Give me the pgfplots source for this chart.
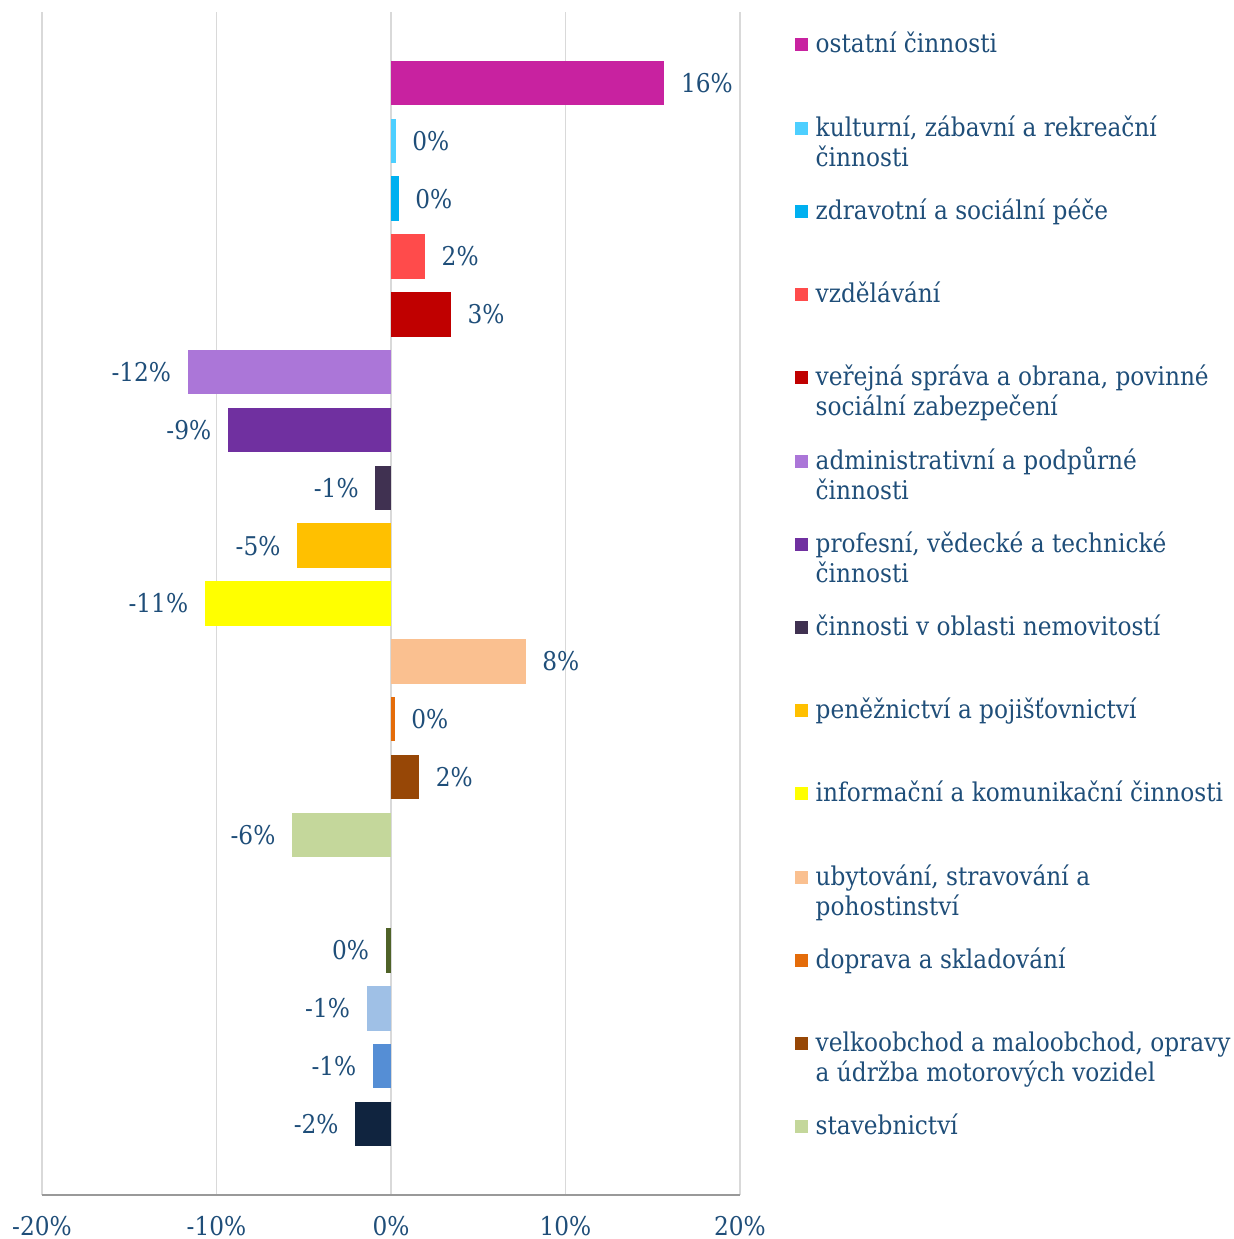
\documentclass[border=0pt]{standalone}
\usepackage{pgfplots}
\pgfplotsset{compat=1.18}
\usepackage{fontspec}
\setmainfont{DejaVu Serif Condensed}
\definecolor{txt}{HTML}{1F4E79}
\definecolor{c1}{HTML}{C822A0}
\definecolor{c2}{HTML}{4DCFFF}
\definecolor{c3}{HTML}{00B0F0}
\definecolor{c4}{HTML}{FF4B4B}
\definecolor{c5}{HTML}{C00000}
\definecolor{c6}{HTML}{AB76D8}
\definecolor{c7}{HTML}{7030A0}
\definecolor{c8}{HTML}{403151}
\definecolor{c9}{HTML}{FFC000}
\definecolor{c10}{HTML}{FFFF00}
\definecolor{c11}{HTML}{FAC090}
\definecolor{c12}{HTML}{E46C0A}
\definecolor{c13}{HTML}{974706}
\definecolor{c14}{HTML}{C4D79B}
\definecolor{c15}{HTML}{4F6228}
\definecolor{c16}{HTML}{9FC0E6}
\definecolor{c17}{HTML}{558ED5}
\definecolor{c18}{HTML}{10243F}
\newcommand\lf{\fontsize{7.35}{8.5}\selectfont}
\pgfplotsset{
  pos/.style={fill=#1, draw=none, nodes near coords style={anchor=west, xshift=1.6mm}},
  neg/.style={fill=#1, draw=none, nodes near coords style={anchor=east, xshift=-1.6mm}},
}
\newcommand\legentry[4]{%
  \pgfmathsetmacro\bl{53+83.2*#1}%
  \fill[#2] (795,\bl-14.5) rectangle (808,\bl-1.5);
  \node[anchor=base west, inner sep=0, text=txt, font=\lf] at (815,\bl) {#3};
  \node[anchor=base west, inner sep=0, text=txt, font=\lf] at (815,\bl+30) {#4};
}
\begin{document}
\begin{tikzpicture}
\path[use as bounding box] (0,0) rectangle (123.3mm,-123.9mm);
\begin{axis}[
  at={(4.2mm,-119.5mm)}, anchor=south west,
  scale only axis, width=69.8mm, height=118.3mm,
  xbar, bar shift=0pt, bar width=0.77,
  xmin=-20, xmax=20, ymin=-0.228, ymax=20.228,
  enlargelimits=false,
  axis x line*=bottom, axis y line=none,
  x axis line style={color=gray!80, line width=0.6pt},
  xmajorgrids, grid style={color=gray!30, line width=0.4pt},
  major tick length=0pt,
  xtick={-20,-10,0,10,20},
  xticklabels={-20\%,-10\%,0\%,10\%,20\%},
  xticklabel style={font=\lf, text=txt, yshift=-0.9mm},
  ytick=\empty,
  every node near coord/.append style={font=\lf, text=txt, inner sep=0pt},
  clip=false,
]
\addplot[pos=c1, nodes near coords={16\%}] coordinates {(15.67,19)};
\addplot[pos=c2, nodes near coords={0\%}] coordinates {(0.27,18)};
\addplot[pos=c3, nodes near coords={0\%}] coordinates {(0.44,17)};
\addplot[pos=c4, nodes near coords={2\%}] coordinates {(1.95,16)};
\addplot[pos=c5, nodes near coords={3\%}] coordinates {(3.43,15)};
\addplot[neg=c6, nodes near coords={-12\%}] coordinates {(-11.65,14)};
\addplot[neg=c7, nodes near coords={-9\%}] coordinates {(-9.35,13)};
\addplot[neg=c8, nodes near coords={-1\%}] coordinates {(-0.90,12)};
\addplot[neg=c9, nodes near coords={-5\%}] coordinates {(-5.38,11)};
\addplot[neg=c10, nodes near coords={-11\%}] coordinates {(-10.67,10)};
\addplot[pos=c11, nodes near coords={8\%}] coordinates {(7.72,9)};
\addplot[pos=c12, nodes near coords={0\%}] coordinates {(0.21,8)};
\addplot[pos=c13, nodes near coords={2\%}] coordinates {(1.61,7)};
\addplot[neg=c14, nodes near coords={-6\%}] coordinates {(-5.67,6)};
\addplot[neg=c15, nodes near coords={0\%}] coordinates {(-0.31,4)};
\addplot[neg=c16, nodes near coords={-1\%}] coordinates {(-1.40,3)};
\addplot[neg=c17, nodes near coords={-1\%}] coordinates {(-1.03,2)};
\addplot[neg=c18, nodes near coords={-2\%}] coordinates {(-2.05,1)};
\end{axis}
\begin{scope}[x=0.1mm, y=-0.1mm]
\legentry{0}{c1}{ostatní činnosti}{}
\legentry{1}{c2}{kulturní, zábavní a rekreační}{činnosti}
\legentry{2}{c3}{zdravotní a sociální péče}{}
\legentry{3}{c4}{vzdělávání}{}
\legentry{4}{c5}{veřejná správa a obrana, povinné}{sociální zabezpečení}
\legentry{5}{c6}{administrativní a podpůrné}{činnosti}
\legentry{6}{c7}{profesní, vědecké a technické}{činnosti}
\legentry{7}{c8}{činnosti v oblasti nemovitostí}{}
\legentry{8}{c9}{peněžnictví a pojišťovnictví}{}
\legentry{9}{c10}{informační a komunikační činnosti}{}
\legentry{10}{c11}{ubytování, stravování a}{pohostinství}
\legentry{11}{c12}{doprava a skladování}{}
\legentry{12}{c13}{velkoobchod a maloobchod, opravy}{a údržba motorových vozidel}
\legentry{13}{c14}{stavebnictví}{}
\end{scope}
\end{tikzpicture}
\end{document}
